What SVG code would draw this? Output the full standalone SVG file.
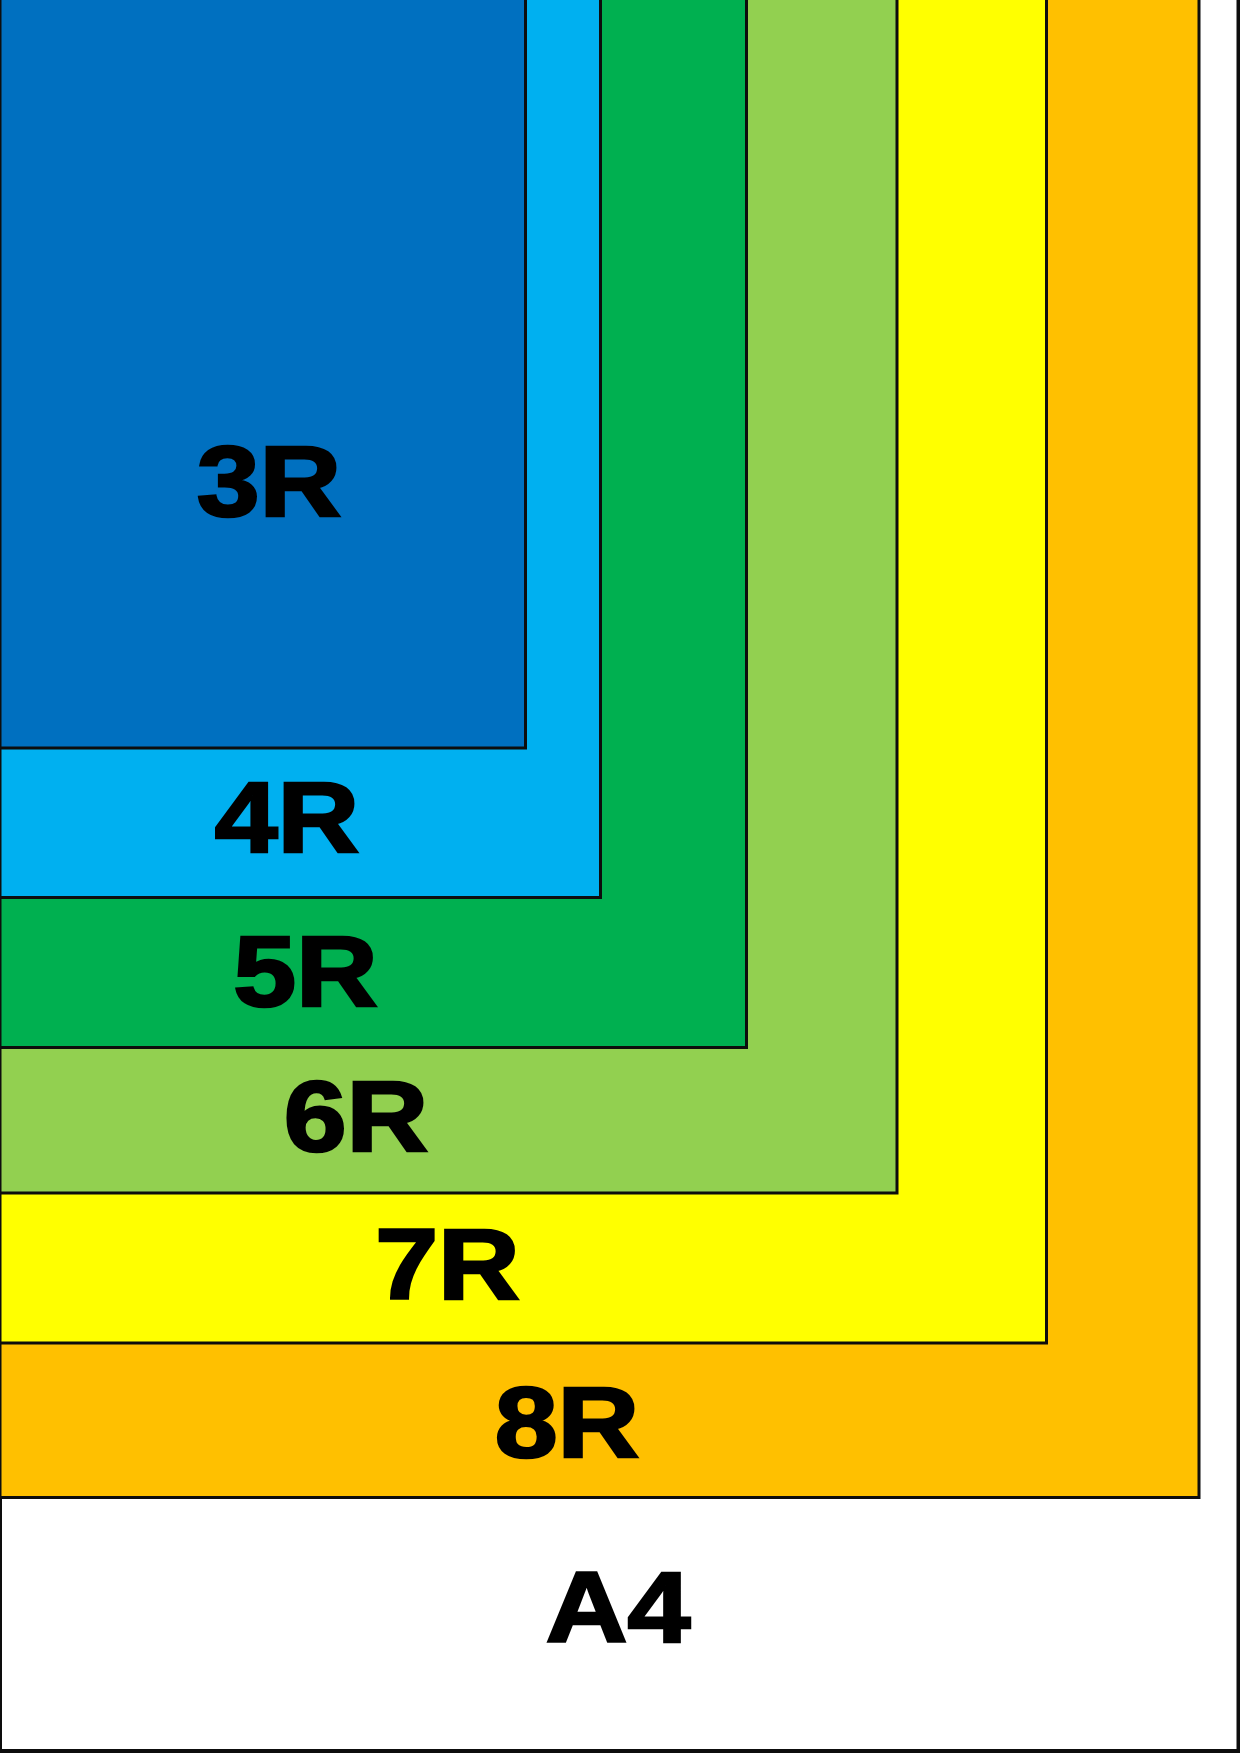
<svg xmlns="http://www.w3.org/2000/svg" width="1240" height="1754" viewBox="0 0 1240 1754">
<style>
.box{stroke:#0d0d0d;stroke-width:3}
.lbl{font-family:"Liberation Sans",Arial,sans-serif;font-weight:bold;font-size:101px;fill:#000;stroke:#000;stroke-width:2.6;stroke-linejoin:miter;stroke-miterlimit:4;text-anchor:middle}
</style>
<rect width="1240" height="1754" fill="#fff"/>
<g id="a4">
<rect x="0" y="-10" width="1238.5" height="1761" fill="#fff" stroke="#0d0d0d" stroke-width="4"/>
<text class="lbl" transform="translate(618,1642) scale(1.12,1)">A4</text>
</g>
<g id="r8">
<rect class="box" x="0" y="-10" width="1199" height="1507.5" fill="#FFC000"/>
<text class="lbl" transform="translate(567,1457) scale(1.12,1)">8R</text>
</g>
<g id="r7">
<rect class="box" x="0" y="-10" width="1046.5" height="1353" fill="#FFFF00"/>
<text class="lbl" transform="translate(447.5,1299) scale(1.12,1)">7R</text>
</g>
<g id="r6">
<rect class="box" x="0" y="-10" width="897" height="1203" fill="#92D050"/>
<text class="lbl" transform="translate(356,1151) scale(1.12,1)">6R</text>
</g>
<g id="r5">
<rect class="box" x="0" y="-10" width="746.5" height="1057.5" fill="#00B050"/>
<text class="lbl" transform="translate(305.5,1006) scale(1.12,1)">5R</text>
</g>
<g id="r4">
<rect class="box" x="0" y="-10" width="600.5" height="907.5" fill="#00B0F0"/>
<text class="lbl" transform="translate(287,852) scale(1.12,1)">4R</text>
</g>
<g id="r3">
<rect class="box" x="0" y="-10" width="525.5" height="758" fill="#0070C0"/>
<text class="lbl" transform="translate(269,516) scale(1.12,1)">3R</text>
</g>
<g id="connectors"/>
</svg>
